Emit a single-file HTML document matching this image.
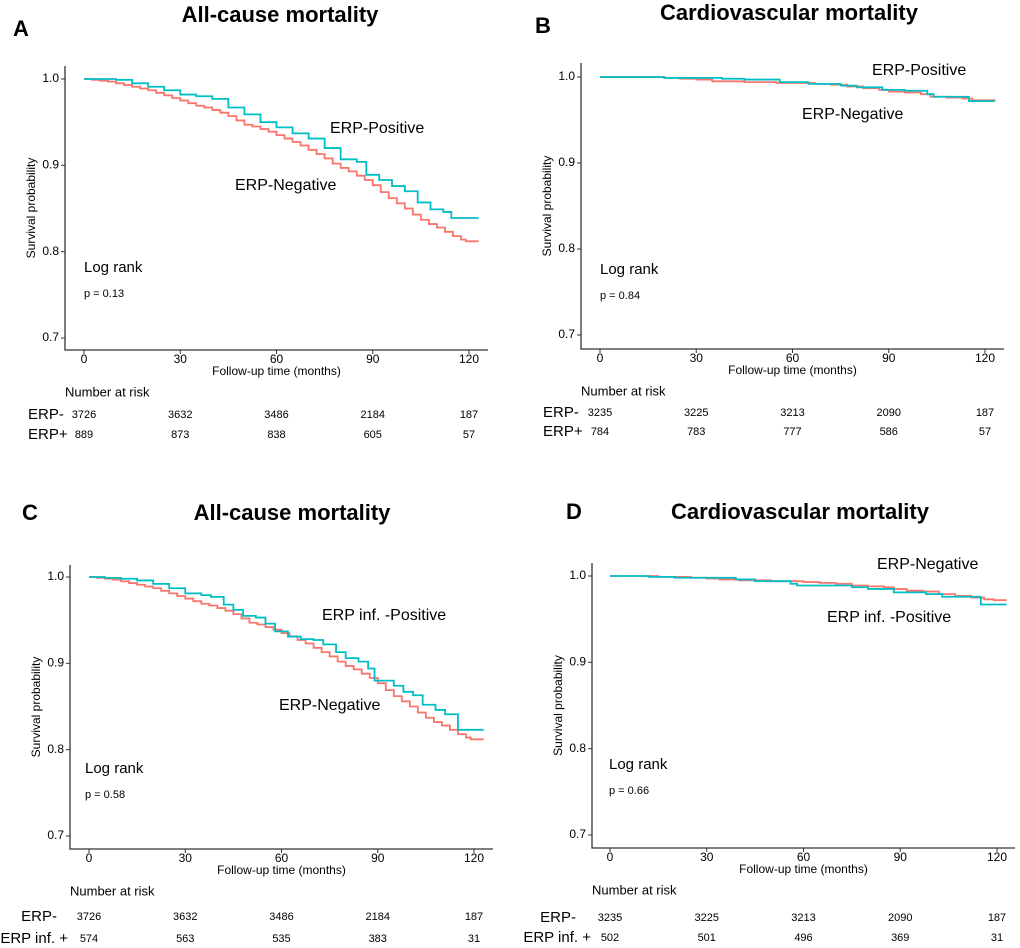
<!DOCTYPE html>
<html><head><meta charset="utf-8"><style>
body{margin:0;background:#fff}
svg{display:block;font-family:"Liberation Sans",Arial,sans-serif}
</style></head><body>
<svg id="fig" width="1020" height="948" viewBox="0 0 1020 948" xmlns="http://www.w3.org/2000/svg"></svg>
<script>
const timeTicks=[0,30,60,90,120];
const survTicks=[0.7,0.8,0.9,1.0];
const aNegT=[0,2.5,5,7.5,10,12.5,15,17.5,20,22.5,25,27.5,30,32.5,35,37.5,40,42.5,45,47.5,50,52.5,55,57.5,60,62.5,65,67.5,70,72.5,75,77.5,80,82.5,85,87.5,90,92.5,95,97.5,100,102.5,105,107.5,110,112.5,115,117.5,119,123];
const aNegS=[1,.999,.998,.997,.995,.993,.991,.989,.987,.984,.981,.978,.975,.972,.969,.967,.964,.961,.957,.952,.947,.945,.942,.939,.935,.931,.927,.923,.918,.913,.908,.902,.897,.893,.888,.883,.877,.869,.862,.856,.850,.843,.837,.832,.828,.823,.818,.814,.812,.812];
const aPosT=[0,10,15,20,25,30,35,40,45,50,55,60,65,70,75,80,85,88,92,96,100,104,108,112,114.5,123];
const aPosS=[1.0,.999,.995,.991,.987,.982,.980,.977,.967,.959,.950,.944,.937,.931,.920,.907,.904,.889,.883,.876,.870,.857,.849,.846,.839,.839];
const bNegT=[0,10,20,25,30,35,45,55,62,67,72,77,82,87,90,95,100,103,108,113,116,123];
const bNegS=[1,1,.999,.998,.997,.995,.994,.993,.993,.992,.991,.989,.987,.985,.983,.982,.980,.977,.976,.975,.973,.972];
const bPosT=[0,12,20,38,45,56,65,75,80,88,95,102,104,115,123];
const bPosS=[1,1,.999,.998,.997,.994,.992,.990,.988,.985,.984,.980,.977,.972,.972];
const cNegT=aNegT, cNegS=aNegS;
const cPosT=[0,5,10,15,20,25,30,35,38,42,45,48,52,55,58,62,66,70,73,77,80,84,87,89,95,98,101,104,108,111,115,123];
const cPosS=[1.0,.999,.998,.996,.992,.987,.981,.979,.977,.968,.962,.955,.953,.946,.937,.931,.928,.927,.922,.913,.906,.902,.894,.880,.874,.867,.863,.852,.846,.841,.823,.823];
const dNegT=[0,15,25,30,34,40,50,60,65,70,75,80,85,88,92,97,102,107,112,116,119,123];
const dNegS=[1,.999,.998,.997,.996,.995,.994,.993,.992,.991,.989,.988,.987,.985,.983,.982,.979,.977,.975,.973,.972,.972];
const dPosT=[0,12,20,39,45,56,58,75,80,88,98,103,115,123];
const dPosS=[1,.999,.998,.996,.994,.991,.989,.987,.985,.981,.979,.976,.967,.967];
const riskA1=[3726,3632,3486,2184,187], riskA2=[889,873,838,605,57];
const riskB1=[3235,3225,3213,2090,187], riskB2=[784,783,777,586,57];
const riskC1=[3726,3632,3486,2184,187], riskC2=[574,563,535,383,31];
const riskD1=[3235,3225,3213,2090,187], riskD2=[502,501,496,369,31];

const NS="http://www.w3.org/2000/svg";
const svg=document.getElementById('fig');
function mk(tag,attrs,parent){const e=document.createElementNS(NS,tag);for(const k in attrs)e.setAttribute(k,attrs[k]);(parent||svg).appendChild(e);return e;}
function txt(s,x,y,size,anchor,weight,parent){const t=mk('text',{x:x,y:y,'font-size':size,'text-anchor':anchor||'start','font-weight':weight||'normal','dominant-baseline':'middle',fill:'#000'},parent);t.textContent=s;return t;}

function panel(c){
  const g=mk('g',{});
  
  
  const X=t=>c.x0+(c.x120-c.x0)*t/120;
  const Y=s=>c.y10+(c.y07-c.y10)*(1-s)/0.3;
  const lt=txt(c.letter,c.lx,c.ly,22,'middle','bold',g);
  
  const ti=txt(c.title,c.tx,c.ty,22,'middle','bold',g);
  
  const ax=mk('path',{d:`M${c.left},${c.top}V${c.bottom}H${c.right}`,stroke:'#333',fill:'none','stroke-width':1.3},g);
  
  survTicks.forEach(v=>{
    mk('line',{x1:c.left-4,x2:c.left,y1:Y(v),y2:Y(v),stroke:'#333'},g);
    const t=txt(v.toFixed(1),c.left-6,Y(v),12,'end','normal',g);
    
  });
  timeTicks.forEach(v=>{
    mk('line',{x1:X(v),x2:X(v),y1:c.bottom,y2:c.bottom+4,stroke:'#333'},g);
    const t=txt(String(v),X(v),c.bottom+10,12,'middle','normal',g);
    
  });
  const xt=txt('Follow-up time (months)',(c.left+c.right)/2,c.bottom+22,12,'middle','normal',g);
  
  const yt=txt('Survival probability',0,0,12,'middle','normal',g);
  yt.setAttribute('transform',`translate(${c.left-33},${(c.top+c.bottom)/2}) rotate(-90)`);
  
  function curve(T,S,col,name){
    let d=`M${X(T[0])},${Y(S[0])}`;
    for(let i=1;i<T.length;i++){d+=`H${X(T[i])}V${Y(S[i])}`;}
    const p=mk('path',{d:d,stroke:col,fill:'none','stroke-width':1.8},g);
    
  }
  curve(c.negT,c.negS,'#F8766D','curve-erp-negative');
  curve(c.posT,c.posS,'#00BFC4','curve-erp-positive');
  c.labels.forEach(l=>{const t=txt(l[0],l[1],l[2],16,'start','normal',g);
    });
  const lr=txt('Log rank',c.lrx,c.lry,15,'start','normal',g);
  
  const pv=txt(c.p,c.lrx,c.lry+26,11,'start','normal',g);
  
  const nr=txt('Number at risk',c.left,c.narY,13,'start','normal',g);
  
  [[c.r1,c.rl1,c.row1Y],[c.r2,c.rl2,c.row2Y]].forEach(r=>{
    const l=txt(r[1][0],r[1][1],r[2],15,r[1][2],'normal',g);
    
    r[0].forEach((v,i)=>{const t=txt(String(v),X(timeTicks[i]),r[2],11,'middle','normal',g);
      });
  });
}
panel({id:'a',letter:'A',lx:21,ly:30,title:'All-cause mortality',tx:280,ty:16,left:65,right:488,top:66,bottom:350,x0:84,x120:469,y10:79,y07:338,
  negT:aNegT,negS:aNegS,posT:aPosT,posS:aPosS,
  labels:[['ERP-Positive',330,129],['ERP-Negative',235,186]],lrx:84,lry:268,p:'p = 0.13',
  narY:393,row1Y:415,row2Y:435,r1:riskA1,r2:riskA2,rl1:['ERP-',28,'start'],rl2:['ERP+',28,'start']});
panel({id:'b',letter:'B',lx:543,ly:27,title:'Cardiovascular mortality',tx:789,ty:14,left:581,right:1004,top:63,bottom:349,x0:600,x120:985,y10:77,y07:335,
  negT:bNegT,negS:bNegS,posT:bPosT,posS:bPosS,
  labels:[['ERP-Positive',872,71],['ERP-Negative',802,115]],lrx:600,lry:270,p:'p = 0.84',
  narY:392,row1Y:413,row2Y:432,r1:riskB1,r2:riskB2,rl1:['ERP-',543,'start'],rl2:['ERP+',543,'start']});
panel({id:'c',letter:'C',lx:30,ly:514,title:'All-cause mortality',tx:292,ty:514,left:70,right:493,top:565,bottom:849,x0:89,x120:474,y10:577,y07:836,
  negT:cNegT,negS:cNegS,posT:cPosT,posS:cPosS,
  labels:[['ERP inf. -Positive',322,616],['ERP-Negative',279,706]],lrx:85,lry:769,p:' p = 0.58',
  narY:892,row1Y:917,row2Y:939,r1:riskC1,r2:riskC2,rl1:['ERP-',57,'end'],rl2:['ERP inf. +',68,'end']});
panel({id:'d',letter:'D',lx:574,ly:513,title:'Cardiovascular mortality',tx:800,ty:513,left:592,right:1015,top:563,bottom:848,x0:610,x120:997,y10:576,y07:835,
  negT:dNegT,negS:dNegS,posT:dPosT,posS:dPosS,
  labels:[['ERP-Negative',877,565],['ERP inf. -Positive',827,618]],lrx:609,lry:765,p:'p = 0.66',
  narY:891,row1Y:918,row2Y:938,r1:riskD1,r2:riskD2,rl1:['ERP-',576,'end'],rl2:['ERP inf. +',591,'end']});
</script>
</body></html>
